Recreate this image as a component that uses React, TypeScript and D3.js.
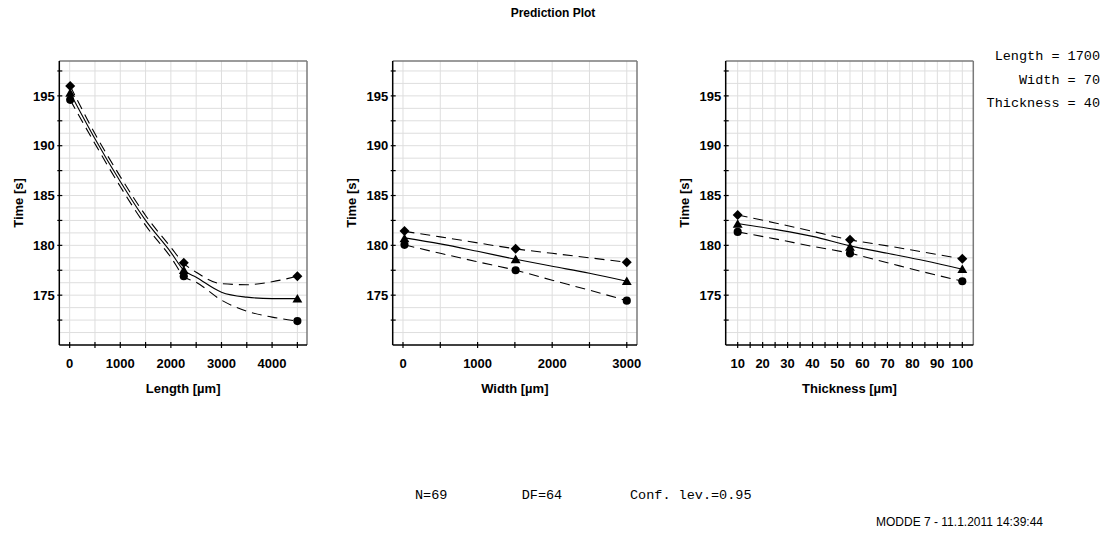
import React from "react";
import * as d3 from "d3";

// ---------- data ----------
const yTickLabels = [175, 180, 185, 190, 195];
const yMinorTicks = [172.5, 177.5, 182.5, 187.5, 192.5, 197.5];
const yGridLines = [171.25, 172.5, 173.75, 175, 176.25, 177.5, 178.75, 180, 181.25, 182.5, 183.75, 185, 186.25, 187.5, 188.75, 190, 191.25, 192.5, 193.75, 195, 196.25, 197.5];

// Length panel
const lengthX = [10, 500, 1000, 1500, 2000, 2255, 2500, 3000, 3500, 4000, 4500];
const lengthPred = [195.3, 190.7, 186.4, 182.5, 179.3, 177.5, 176.8, 175.3, 174.8, 174.65, 174.65];
const lengthHigh = [196.0, 191.2, 186.9, 183.0, 179.8, 178.2, 177.3, 176.15, 176.05, 176.35, 176.9];
const lengthLow = [194.6, 190.2, 185.9, 182.0, 178.8, 176.9, 176.3, 174.5, 173.4, 172.8, 172.4];
const lengthLevels = [10, 2255, 4500];
const lengthLevelHigh = [196.0, 178.25, 176.9];
const lengthLevelMid = [195.3, 177.5, 174.65];
const lengthLevelLow = [194.6, 176.9, 172.4];
const lengthTickLabels = [0, 1000, 2000, 3000, 4000];
const lengthTicks = [0, 500, 1000, 1500, 2000, 2500, 3000, 3500, 4000, 4500];

// Width panel
const widthX = [20, 500, 1000, 1510, 2000, 2500, 3000];
const widthPred = [180.75, 180.15, 179.4, 178.6, 177.9, 177.2, 176.4];
const widthHigh = [181.4, 180.85, 180.25, 179.65, 179.2, 178.75, 178.3];
const widthLow = [180.05, 179.2, 178.35, 177.5, 176.5, 175.5, 174.45];
const widthLevels = [20, 1510, 3000];
const widthLevelHigh = [181.45, 179.65, 178.3];
const widthLevelMid = [180.7, 178.6, 176.4];
const widthLevelLow = [180.05, 177.5, 174.45];
const widthTickLabels = [0, 1000, 2000, 3000];
const widthTicks = [0, 500, 1000, 1500, 2000, 2500, 3000];

// Thickness panel
const thickX = [10, 25, 40, 55, 70, 85, 100];
const thickPred = [182.2, 181.6, 180.9, 179.95, 179.2, 178.45, 177.6];
const thickHigh = [183.05, 182.25, 181.4, 180.55, 179.95, 179.3, 178.65];
const thickLow = [181.35, 180.65, 179.9, 179.2, 178.25, 177.3, 176.4];
const thickLevels = [10, 55, 100];
const thickLevelHigh = [183.05, 180.55, 178.65];
const thickLevelMid = [182.15, 179.85, 177.6];
const thickLevelLow = [181.35, 179.2, 176.4];
const thickTickLabels = [10, 20, 30, 40, 50, 60, 70, 80, 90, 100];
const thickTicks = [10, 15, 20, 25, 30, 35, 40, 45, 50, 55, 60, 65, 70, 75, 80, 85, 90, 95, 100];

const factorLines = ["Length = 1700", "Width = 70", "Thickness = 40"];
const statsTexts = ["N=69", "DF=64", "Conf. lev.=0.95"];

// ---------- layout ----------
const W = 1106;
const H = 533;
const TOP = 61;
const BOTTOM = 345;
const SANS = "Liberation Sans, Arial, sans-serif";
const MONO = "Liberation Mono, Courier New, monospace";

const yScale = d3.scaleLinear().domain([170, 198.5]).range([BOTTOM, TOP]);

interface PanelProps {
  left: number;
  right: number;
  domain: [number, number];
  xs: number[];
  pred: number[];
  high: number[];
  low: number[];
  levels: number[];
  lvHigh: number[];
  lvMid: number[];
  lvLow: number[];
  tickLabels: number[];
  ticks: number[];
  title: string;
}

function Panel(p: PanelProps) {
  const x = d3.scaleLinear().domain(p.domain).range([p.left, p.right]);
  const line = (vals: number[]) =>
    d3
      .line<number>()
      .x((_, i) => x(p.xs[i]))
      .y((v) => yScale(v))
      .curve(d3.curveMonotoneX)(vals) || "";
  const sq = d3.symbol().type(d3.symbolSquare).size(50)() || "";
  const tri = d3.symbol().type(d3.symbolTriangle).size(42)() || "";
  const circ = d3.symbol().type(d3.symbolCircle).size(52)() || "";
  const cx = (p.left + p.right) / 2;
  const cy = (TOP + BOTTOM) / 2;
  return (
    <g>
      <rect x={p.left} y={TOP} width={p.right - p.left} height={BOTTOM - TOP} fill="#fff" />
      {yGridLines.map((v) => (
        <line key={"hg" + v} x1={p.left} x2={p.right} y1={yScale(v)} y2={yScale(v)} stroke="#dedede" strokeWidth={1} />
      ))}
      {p.ticks.map((v) => (
        <line key={"vg" + v} x1={x(v)} x2={x(v)} y1={TOP} y2={BOTTOM} stroke="#dedede" strokeWidth={1} />
      ))}
      <path d={line(p.high)} fill="none" stroke="#000" strokeWidth={1.1} strokeDasharray="10,6" />
      <path d={line(p.low)} fill="none" stroke="#000" strokeWidth={1.1} strokeDasharray="10,6" />
      <path d={line(p.pred)} fill="none" stroke="#000" strokeWidth={1.1} />
      {p.levels.map((lv, i) => (
        <g key={"m" + lv}>
          <path d={sq} transform={`translate(${x(lv)},${yScale(p.lvHigh[i])}) rotate(45)`} fill="#000" />
          <path d={tri} transform={`translate(${x(lv)},${yScale(p.lvMid[i]) + 1})`} fill="#000" />
          <path d={circ} transform={`translate(${x(lv)},${yScale(p.lvLow[i])})`} fill="#000" />
        </g>
      ))}
      {/* frame */}
      <line x1={p.left} x2={p.right} y1={TOP} y2={TOP} stroke="#7a7a7a" strokeWidth={1.5} />
      <line x1={p.right} x2={p.right} y1={TOP} y2={BOTTOM} stroke="#7a7a7a" strokeWidth={1.5} />
      <line x1={p.left} x2={p.left} y1={TOP} y2={BOTTOM} stroke="#000" strokeWidth={1.5} />
      <line x1={p.left} x2={p.right} y1={BOTTOM} y2={BOTTOM} stroke="#000" strokeWidth={1.5} />
      {/* y ticks */}
      {[...yTickLabels, ...yMinorTicks].map((v) => (
        <line key={"yt" + v} x1={p.left - 2} x2={p.left + 3} y1={yScale(v)} y2={yScale(v)} stroke="#000" strokeWidth={1.2} />
      ))}
      {yTickLabels.map((v) => (
        <text key={"yl" + v} x={p.left - 4.5} y={yScale(v)} dy="0.36em" textAnchor="end" fontFamily={SANS} fontWeight="bold" fontSize={13} fill="#000">
          {v}
        </text>
      ))}
      {/* x ticks */}
      {p.ticks.map((v) => (
        <line key={"xt" + v} x1={x(v)} x2={x(v)} y1={BOTTOM - 3} y2={BOTTOM + 3} stroke="#000" strokeWidth={1.2} />
      ))}
      {p.tickLabels.map((v) => (
        <text key={"xl" + v} x={x(v)} y={368} textAnchor="middle" fontFamily={SANS} fontWeight="bold" fontSize={13} fill="#000">
          {v}
        </text>
      ))}
      <text x={cx} y={393} textAnchor="middle" fontFamily={SANS} fontWeight="bold" fontSize={13} fill="#000">
        {p.title}
      </text>
      <text
        transform={`translate(${p.left - 41},${cy}) rotate(-90)`}
        textAnchor="middle"
        dy="0.36em"
        fontFamily={SANS}
        fontWeight="bold"
        fontSize={13}
        fill="#000"
      >
        Time [s]
      </text>
    </g>
  );
}

export default function App() {
  return (
    <svg width={W} height={H} style={{ position: "absolute", left: 0, top: 0, background: "#fff" }}>
      <rect x={0} y={0} width={W} height={H} fill="#fff" />
      <text x={W / 2} y={17} textAnchor="middle" fontFamily={SANS} fontWeight="bold" fontSize={12} fill="#000">
        Prediction Plot
      </text>
      <Panel
        left={59.3}
        right={307}
        domain={[-205, 4690]}
        xs={lengthX}
        pred={lengthPred}
        high={lengthHigh}
        low={lengthLow}
        levels={lengthLevels}
        lvHigh={lengthLevelHigh}
        lvMid={lengthLevelMid}
        lvLow={lengthLevelLow}
        tickLabels={lengthTickLabels}
        ticks={lengthTicks}
        title="Length [µm]"
      />
      <Panel
        left={392.7}
        right={637}
        domain={[-138, 3137]}
        xs={widthX}
        pred={widthPred}
        high={widthHigh}
        low={widthLow}
        levels={widthLevels}
        lvHigh={widthLevelHigh}
        lvMid={widthLevelMid}
        lvLow={widthLevelLow}
        tickLabels={widthTickLabels}
        ticks={widthTicks}
        title="Width [µm]"
      />
      <Panel
        left={725.7}
        right={973.3}
        domain={[5.2, 104.4]}
        xs={thickX}
        pred={thickPred}
        high={thickHigh}
        low={thickLow}
        levels={thickLevels}
        lvHigh={thickLevelHigh}
        lvMid={thickLevelMid}
        lvLow={thickLevelLow}
        tickLabels={thickTickLabels}
        ticks={thickTicks}
        title="Thickness [µm]"
      />
      {factorLines.map((t, i) => (
        <text key={t} x={1100} y={60 + i * 23.5} textAnchor="end" fontFamily={MONO} fontSize={13.5} fill="#000">
          {t}
        </text>
      ))}
      {statsTexts.map((t, i) => (
        <text key={t} x={[415, 521.7, 630][i]} y={499} fontFamily={MONO} fontSize={13.5} fill="#000">
          {t}
        </text>
      ))}
      <text x={1043} y={526} textAnchor="end" fontFamily={SANS} fontSize={12} fill="#000">
        MODDE 7 - 11.1.2011 14:39:44
      </text>
    </svg>
  );
}
